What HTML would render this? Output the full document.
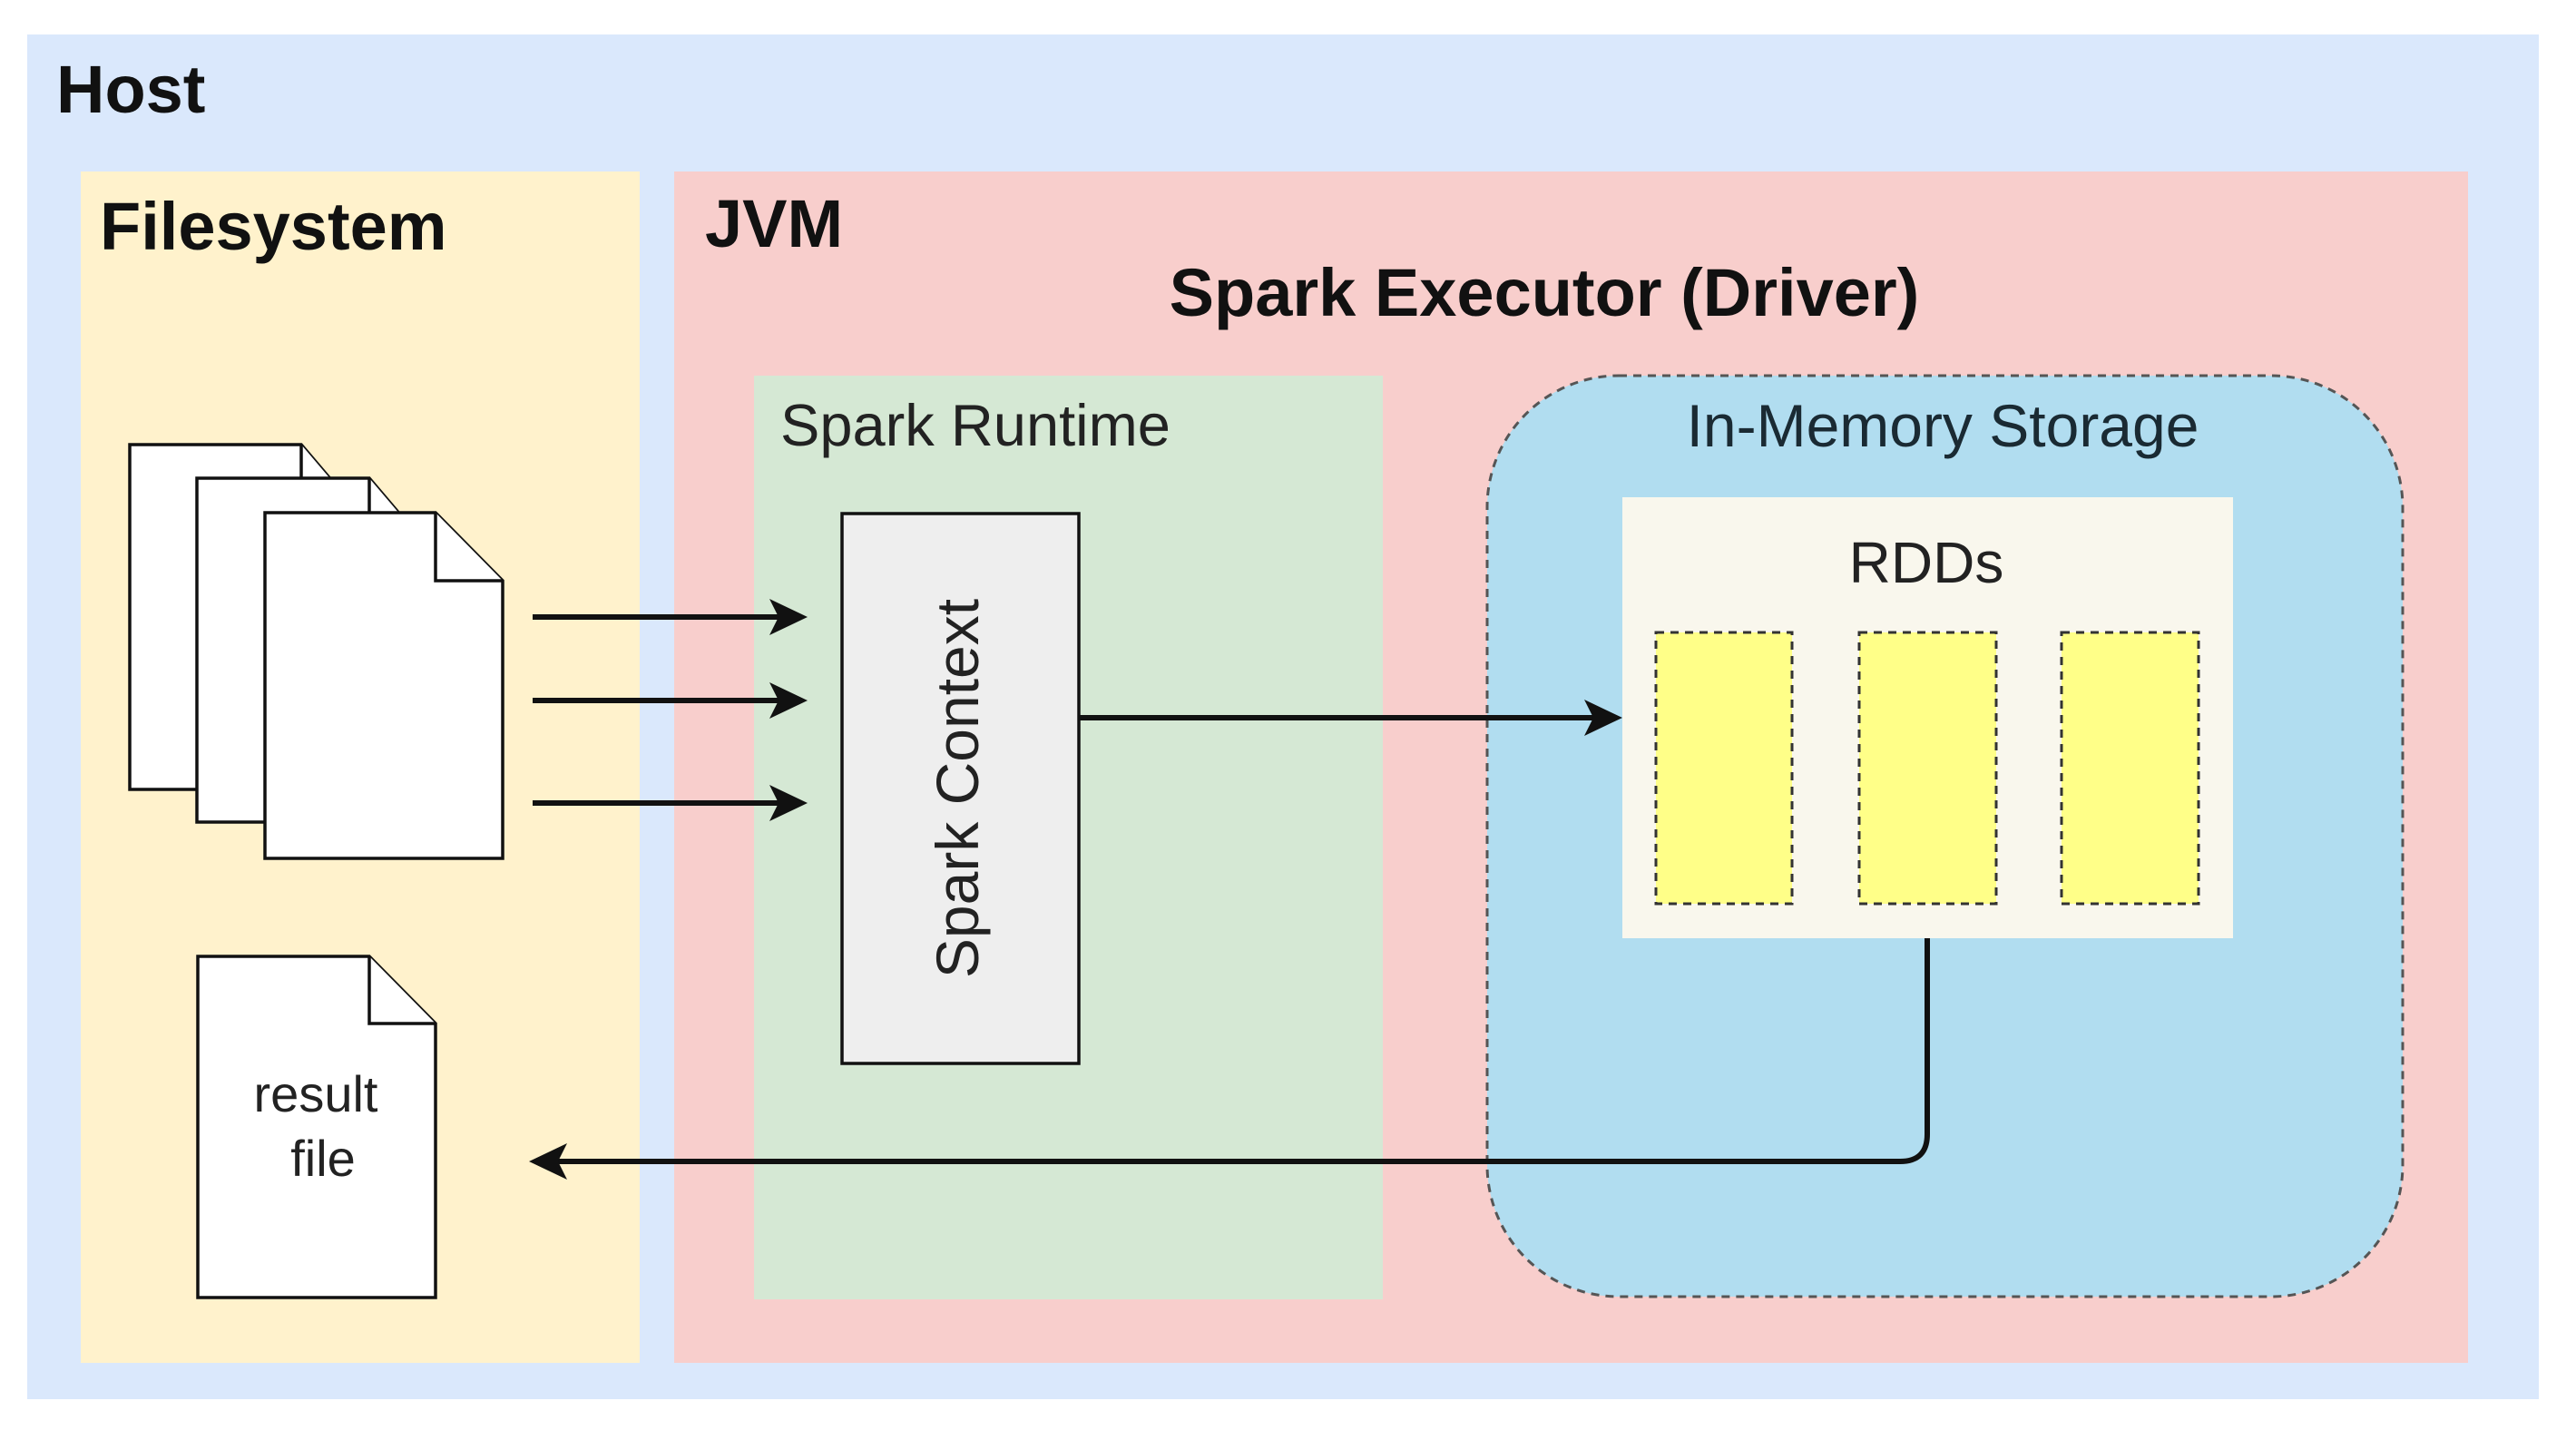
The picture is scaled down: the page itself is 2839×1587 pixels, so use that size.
<!DOCTYPE html>
<html><head><meta charset="utf-8"><style>
html,body{margin:0;padding:0;background:#fff;}
svg{display:block;}
text{font-family:"Liberation Sans",Arial,sans-serif;}
</style></head><body>
<svg width="2839" height="1587" viewBox="0 0 2839 1587" xmlns="http://www.w3.org/2000/svg">
<rect width="2839" height="1587" fill="#fff"/>
<rect x="30" y="38" width="2768" height="1504" fill="#dae8fc"/>
<text x="62" y="124" font-size="74" font-weight="bold" fill="#111">Host</text>
<rect x="89" y="189" width="616" height="1313" fill="#fff2cc"/>
<text x="110" y="275" font-size="74" font-weight="bold" fill="#111">Filesystem</text>
<rect x="743" y="189" width="1977" height="1313" fill="#f8cecc"/>
<text x="777" y="272" font-size="74" font-weight="bold" fill="#111">JVM</text>
<text x="1702" y="348" font-size="74" font-weight="bold" fill="#111" text-anchor="middle">Spark Executor (Driver)</text>
<rect x="831" y="414" width="693" height="1018" fill="#d5e8d4"/>
<text x="860" y="491" font-size="65" fill="#222">Spark Runtime</text>
<rect x="1639" y="414" width="1009" height="1015" rx="145" ry="145" fill="#b1ddf0" stroke="#555" stroke-width="3" stroke-dasharray="9 7"/>
<text x="2141" y="492" font-size="66" fill="#1a2a33" text-anchor="middle">In-Memory Storage</text>
<rect x="1788" y="548" width="673" height="486" fill="#f9f7ed"/>
<text x="2123" y="642" font-size="64" fill="#222" text-anchor="middle">RDDs</text>
<g fill="#ffff88" stroke="#333" stroke-width="3" stroke-dasharray="9 7">
<rect x="1825" y="697" width="150" height="299"/>
<rect x="2049" y="697" width="151" height="299"/>
<rect x="2272" y="697" width="151" height="299"/>
</g>
<g fill="#fff" stroke="#111" stroke-width="3.5">
<path d="M143 490 H332 L366 530 V870 H143 Z"/><path d="M332 490 V530 H366"/>
<path d="M217 527 H407 L441 567 V906 H217 Z"/><path d="M407 527 V567 H441"/>
<path d="M292 565 H480 L554 640 V946 H292 Z"/><path d="M480 565 V640 H554"/>
<path d="M218 1054 H407 L480 1128 V1430 H218 Z"/><path d="M407 1054 V1128 H480"/>
</g>
<text x="348" y="1225" font-size="56" fill="#222" text-anchor="middle">result</text>
<text x="356" y="1296" font-size="56" fill="#222" text-anchor="middle">file</text>
<rect x="928" y="566" width="261" height="606" fill="#eeeeee" stroke="#111" stroke-width="3.5"/>
<text transform="translate(1078 869) rotate(-90)" font-size="66" fill="#222" text-anchor="middle">Spark Context</text>
<g stroke="#111" stroke-width="6" fill="none">
<line x1="587" y1="680" x2="860" y2="680"/>
<line x1="587" y1="772" x2="860" y2="772"/>
<line x1="587" y1="885" x2="860" y2="885"/>
<line x1="1189" y1="791" x2="1760" y2="791"/>
<path d="M2124 1034 V1250 Q2124 1280 2094 1280 H612"/>
</g>
<g fill="#111">
<path d="M890 680 L848 660 L858 680 L848 700 Z"/>
<path d="M890 772 L848 752 L858 772 L848 792 Z"/>
<path d="M890 885 L848 865 L858 885 L848 905 Z"/>
<path d="M1788 791 L1746 771 L1756 791 L1746 811 Z"/>
<path d="M583 1280 L625 1260 L615 1280 L625 1300 Z"/>
</g>
</svg>
</body></html>
